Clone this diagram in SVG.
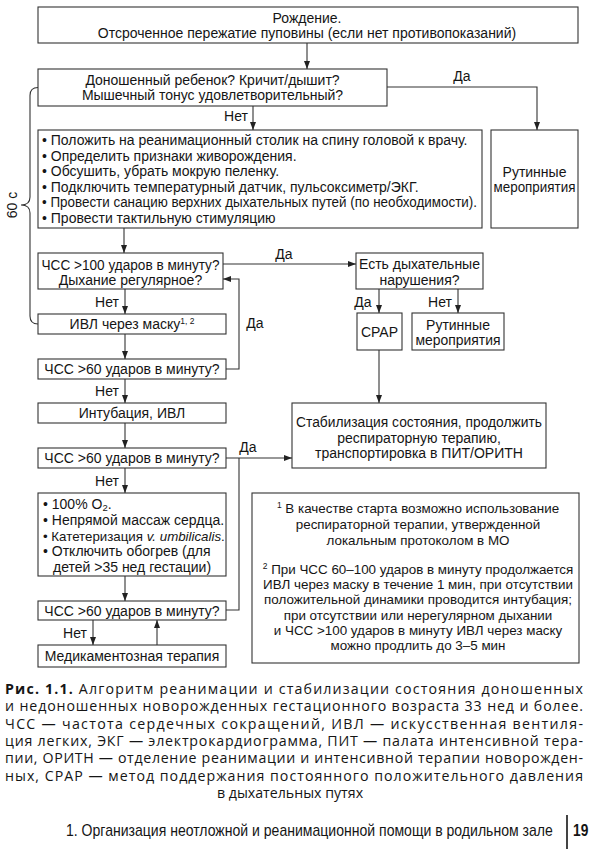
<svg xmlns="http://www.w3.org/2000/svg" width="600" height="856" viewBox="0 0 600 856">
<defs>
<marker id="ah" viewBox="0 0 8 8" refX="8" refY="4" markerWidth="8" markerHeight="8" markerUnits="userSpaceOnUse" orient="auto">
<path d="M0,1 L8,4 L0,7 Z" fill="#222"/>
</marker>
</defs>
<style>
.b{fill:#fff;stroke:#333;stroke-width:1.1}
.t{font-family:"Liberation Sans",Arial,sans-serif;font-size:14px;fill:#151515}
.n{font-size:13.4px}
.c{text-anchor:middle}
.l{fill:none;stroke:#333;stroke-width:1.1}
.a{marker-end:url(#ah)}
.cap{font-family:"Open Sans","Noto Sans",sans-serif;font-size:14.2px;fill:#151515}
.ft{font-family:"Liberation Sans",Arial,sans-serif;font-size:16px;fill:#151515}
</style>
<rect width="600" height="856" fill="#fff"/>

<g id="connectors">
<path class="l a" d="M307,43 V69"/>
<path class="l a" d="M387,87 H537 V130"/>
<path class="l a" d="M253,106 V130"/>
<path class="l" d="M38,87.5 Q30,87.5 30,95.5 V197 Q30,205 21,205 Q30,205 30,213 V316 Q30,324 38,324"/>
<path class="l a" d="M124,228 V253"/>
<path class="l a" d="M223,264 H356"/>
<path class="l a" d="M379,289 V313"/>
<path class="l a" d="M458,289 V313"/>
<path class="l a" d="M379,350 V403"/>
<path class="l a" d="M125,289 V314"/>
<path class="l a" d="M125,334 V359"/>
<path class="l a" d="M226,369 H239 V279 H223"/>
<path class="l a" d="M125,379 V403"/>
<path class="l a" d="M125,423 V448"/>
<path class="l a" d="M226,458 H292"/>
<path class="l" d="M239,458 V610 H226"/>
<path class="l a" d="M125,468 V493"/>
<path class="l a" d="M125,576 V601"/>
<path class="l a" d="M93,620 V645"/>
<path class="l a" d="M157,645 V620"/>
<text class="t c" x="462" y="81">Да</text>
<text class="t c" x="236" y="121">Нет</text>
<text class="t c" x="12" y="205" transform="rotate(-90 12 205)" dy="5">60 с</text>
<text class="t c" x="284" y="258.5">Да</text>
<text class="t c" x="363" y="306.5">Да</text>
<text class="t c" x="440" y="306.5">Нет</text>
<text class="t c" x="107" y="306.5">Нет</text>
<text class="t c" x="255" y="327.5">Да</text>
<text class="t c" x="107" y="395.5">Нет</text>
<text class="t c" x="248" y="451.5">Да</text>
<text class="t c" x="107" y="485.5">Нет</text>
<text class="t c" x="75" y="637.5">Нет</text>
</g>

<g id="n-birth">
<rect class="b" x="38" y="7" width="540" height="36"/>
<text class="t c" x="307" y="22.5">Рождение.</text>
<text class="t c" x="307" y="38">Отсроченное пережатие пуповины (если нет противопоказаний)</text>
</g>

<g id="n-assess">
<rect class="b" x="38" y="69" width="349" height="37"/>
<text class="t c" x="212.5" y="84.5">Доношенный ребенок? Кричит/дышит?</text>
<text class="t c" x="212.5" y="100">Мышечный тонус удовлетворительный?</text>
</g>

<g id="n-steps">
<rect class="b" x="38" y="130" width="444" height="98"/>
<text class="t" x="42" y="145">• Положить на реанимационный столик на спину головой к врачу.</text>
<text class="t" x="42" y="160.5">• Определить признаки живорождения.</text>
<text class="t" x="42" y="176">• Обсушить, убрать мокрую пеленку.</text>
<text class="t" x="42" y="191.5">• Подключить температурный датчик, пульсоксиметр/ЭКГ.</text>
<text class="t" x="42" y="207" textLength="435" lengthAdjust="spacingAndGlyphs">• Провести санацию верхних дыхательных путей (по необходимости).</text>
<text class="t" x="42" y="222.5">• Провести тактильную стимуляцию</text>
</g>

<g id="n-routine1">
<rect class="b" x="491" y="130" width="87" height="98"/>
<text class="t c" x="534.5" y="177">Рутинные</text>
<text class="t c" x="534.5" y="192" textLength="82" lengthAdjust="spacingAndGlyphs">мероприятия</text>
</g>

<g id="n-hr100">
<rect class="b" x="38" y="253" width="185" height="36"/>
<text class="t c" x="130.5" y="269.5" textLength="178" lengthAdjust="spacingAndGlyphs">ЧСС &gt;100 ударов в минуту?</text>
<text class="t c" x="130.5" y="284.5">Дыхание регулярное?</text>
</g>

<g id="n-resp">
<rect class="b" x="356" y="253" width="127" height="36"/>
<text class="t c" x="419.5" y="269">Есть дыхательные</text>
<text class="t c" x="419.5" y="285">нарушения?</text>
</g>

<g id="n-cpap">
<rect class="b" x="357" y="313" width="45" height="37"/>
<text class="t c" x="379.5" y="336.5">CPAP</text>
</g>

<g id="n-routine2">
<rect class="b" x="412" y="313" width="92" height="37"/>
<text class="t c" x="458" y="330">Рутинные</text>
<text class="t c" x="458" y="345" textLength="85" lengthAdjust="spacingAndGlyphs">мероприятия</text>
</g>

<g id="n-stab">
<rect class="b" x="292" y="403" width="254" height="65"/>
<text class="t c" x="419" y="427" textLength="246" lengthAdjust="spacingAndGlyphs">Стабилизация состояния, продолжить</text>
<text class="t c" x="419" y="442.5">респираторную терапию,</text>
<text class="t c" x="419" y="458">транспортировка в ПИТ/ОРИТН</text>
</g>

<g id="n-mask">
<rect class="b" x="38" y="314" width="188" height="20"/>
<text class="t c" x="132" y="329">ИВЛ через маску<tspan font-size="8.5" dy="-5">1, 2</tspan></text>
</g>

<g id="n-hr60a">
<rect class="b" x="38" y="359" width="188" height="20"/>
<text class="t c" x="132" y="374">ЧСС &gt;60 ударов в минуту?</text>
</g>

<g id="n-intub">
<rect class="b" x="38" y="403" width="188" height="20"/>
<text class="t c" x="132" y="418">Интубация, ИВЛ</text>
</g>

<g id="n-hr60b">
<rect class="b" x="38" y="448" width="188" height="20"/>
<text class="t c" x="132" y="463">ЧСС &gt;60 ударов в минуту?</text>
</g>

<g id="n-cpr">
<rect class="b" x="38" y="493" width="188" height="83"/>
<text class="t" x="43" y="508.5">• 100% O<tspan font-size="9.5" dy="2">2</tspan><tspan dy="-2">.</tspan></text>
<text class="t" x="43" y="524.5">• Непрямой массаж сердца.</text>
<text class="t" x="43" y="540.5" style="font-size:13.3px">• Катетеризация <tspan font-style="italic">v. umbilicalis</tspan>.</text>
<text class="t" x="43" y="556">• Отключить обогрев (для</text>
<text class="t" x="53" y="571.5">детей &gt;35 нед гестации)</text>
</g>

<g id="n-hr60c">
<rect class="b" x="38" y="601" width="188" height="19"/>
<text class="t c" x="132" y="615.5">ЧСС &gt;60 ударов в минуту?</text>
</g>

<g id="n-drug">
<rect class="b" x="38" y="645" width="188" height="22"/>
<text class="t c" x="132" y="661">Медикаментозная терапия</text>
</g>

<g id="n-notes">
<rect class="b" x="252" y="493" width="327" height="170"/>
<text class="t n c" x="418" y="513"><tspan font-size="8.5" dy="-5">1</tspan><tspan dy="5"> В качестве старта возможно использование</tspan></text>
<text class="t n c" x="418" y="529">респираторной терапии, утвержденной</text>
<text class="t n c" x="418" y="545">локальным протоколом в МО</text>
<text class="t n c" x="418" y="574"><tspan font-size="8.5" dy="-5">2</tspan><tspan dy="5"> При ЧСС 60–100 ударов в минуту продолжается</tspan></text>
<text class="t n c" x="418" y="589">ИВЛ через маску в течение 1 мин, при отсутствии</text>
<text class="t n c" x="418" y="604">положительной динамики проводится интубация;</text>
<text class="t n c" x="418" y="619.5">при отсутствии или нерегулярном дыхании</text>
<text class="t n c" x="418" y="635">и ЧСС &gt;100 ударов в минуту ИВЛ через маску</text>
<text class="t n c" x="418" y="650">можно продлить до 3–5 мин</text>
</g>

<g id="caption">
<text class="cap" x="5" y="694" textLength="578" lengthAdjust="spacing"><tspan font-weight="bold">Рис. 1.1.</tspan> Алгоритм реанимации и стабилизации состояния доношенных</text>
<text class="cap" x="5" y="711.3" textLength="578" lengthAdjust="spacing">и недоношенных новорожденных гестационного возраста 33 нед и более.</text>
<text class="cap" x="5" y="728.6" textLength="578" lengthAdjust="spacing">ЧСС — частота сердечных сокращений, ИВЛ — искусственная вентиля-</text>
<text class="cap" x="5" y="745.9" textLength="578" lengthAdjust="spacing">ция легких, ЭКГ — электрокардиограмма, ПИТ — палата интенсивной тера-</text>
<text class="cap" x="5" y="763.2" textLength="578" lengthAdjust="spacing">пии, ОРИТН — отделение реанимации и интенсивной терапии новорожден-</text>
<text class="cap" x="5" y="780.5" textLength="578" lengthAdjust="spacing">ных, CPAP — метод поддержания постоянного положительного давления</text>
<text class="cap" x="290" y="797.8" text-anchor="middle">в дыхательных путях</text>
</g>

<g id="footer">
<text class="ft" transform="translate(66,836) scale(0.86,1)" x="0" y="0" textLength="566" lengthAdjust="spacingAndGlyphs">1. Организация неотложной и реанимационной помощи в родильном зале</text>
<line x1="567" y1="815" x2="567" y2="849" stroke="#151515" stroke-width="1.6"/>
<text class="ft" transform="translate(573,836) scale(0.86,1)" x="0" y="0" font-weight="bold">19</text>
</g>
</svg>
